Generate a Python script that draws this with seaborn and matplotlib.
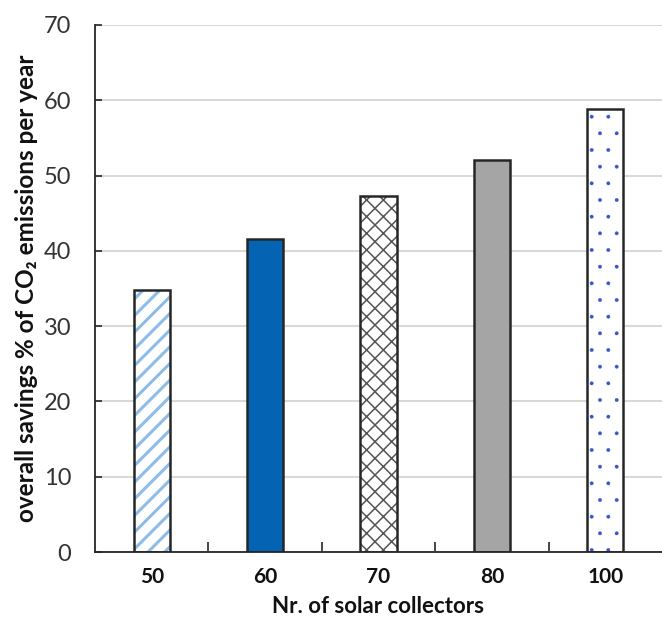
import numpy as np
import matplotlib
matplotlib.use("Agg")
import matplotlib.pyplot as plt
import seaborn as sns

collectors = ["50", "60", "70", "80", "100"]
savings = [34.8, 41.6, 47.3, 52.1, 58.8]
fill_colors = ["white", "#0563b4", "white", "#a5a5a5", "white"]
hatch_colors = ["#8cbde8", "#0563b4", "#555555", "#a5a5a5", "#3a55c8"]
hatches = ["//", "", "xx", "", "."]
hatch_widths = [2.2, 1.0, 1.1, 1.0, 0.3]

sns.set_theme(style="white")
plt.rcParams['font.family'] = ['Lato', 'DejaVu Sans']
plt.rcParams['hatch.linewidth'] = 1.0

fig = plt.figure(figsize=(6.62, 6.36), dpi=100)
ax = fig.add_axes([0.1435, 0.132, 0.8565, 0.8287])

# hatch / fill layer
sns.barplot(x=collectors, y=savings, hue=collectors, palette=fill_colors,
            saturation=1, legend=False, width=0.32, ax=ax, zorder=2)
for p, hc, h, hw in zip(ax.patches, hatch_colors, hatches, hatch_widths):
    p.set_edgecolor(hc)
    p.set_linewidth(0)
    p.set_hatch(h)
    if hasattr(p, "set_hatch_linewidth"):
        p.set_hatch_linewidth(hw)
    else:
        p._hatch_linewidth = hw
n = len(ax.patches)

# outline layer
sns.barplot(x=collectors, y=savings, width=0.32, ax=ax, fill=False,
            color="#262626", linewidth=1.8, zorder=3)
for p in ax.patches[n:]:
    p.set_facecolor("none")
    p.set_edgecolor("#262626")
    p.set_linewidth(1.8)

ax.set_xlim(-0.5, 4.5)
ax.set_ylim(0, 70)
ax.set_yticks(np.arange(0, 71, 10))
ax.yaxis.grid(True, color="#d9d9d9", linewidth=1.5, zorder=0)
ax.set_axisbelow(True)

for s in ["top", "right"]:
    ax.spines[s].set_visible(False)
for s in ["left", "bottom"]:
    ax.spines[s].set_color("#262626")
    ax.spines[s].set_linewidth(1.3)

ax.tick_params(axis="y", direction="in", length=5, width=1.2, color="#262626",
               labelsize=17, labelcolor="#333333", pad=17, left=True)
ax.tick_params(axis="x", which="major", length=0, labelsize=15, pad=11,
               labelcolor="#111111")
ax.set_xticks(np.arange(0.5, 4.0, 1.0), minor=True)
ax.tick_params(axis="x", which="minor", direction="in", length=7, width=1.2,
               color="#262626", bottom=True)
for lbl in ax.get_xticklabels():
    lbl.set_fontweight("bold")

ax.set_xlabel("Nr. of solar collectors", fontsize=16, fontweight="bold",
              labelpad=6, color="#111111")
ax.set_ylabel("overall savings % of CO₂ emissions per year", fontsize=17.5,
              fontweight="bold", labelpad=4, color="#111111")

fig.savefig("out.png", dpi=100)
